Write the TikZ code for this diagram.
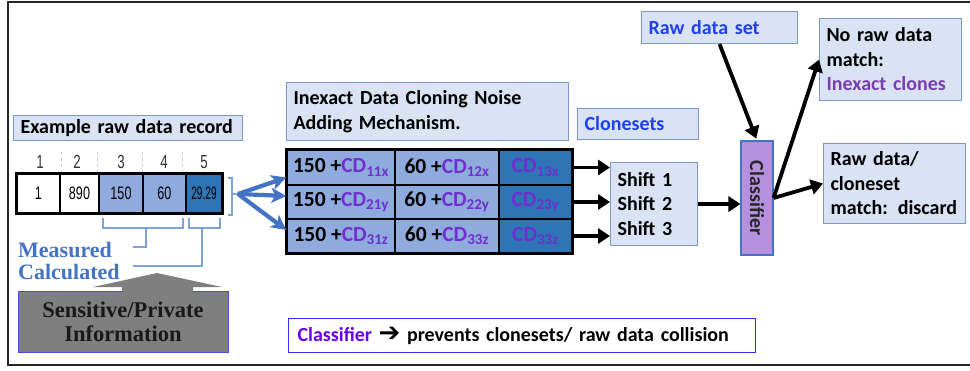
\documentclass[tikz,border=0pt]{standalone}
\usepackage{fontspec}
\setmainfont{Carlito}
\newfontfamily\serifb{Liberation Serif}
\newfontfamily\narrowf[FakeStretch=0.7]{Liberation Sans}
\newfontfamily\symf{DejaVu Sans}
\usetikzlibrary{arrows.meta}

\definecolor{framegray}{HTML}{262626}
\definecolor{boxfill}{HTML}{DAE3F3}
\definecolor{boxline}{HTML}{7B96CA}
\definecolor{cellmid}{HTML}{8FAADC}
\definecolor{celldark}{HTML}{2E75B6}
\definecolor{fanblue}{HTML}{4472C4}
\definecolor{bracketblue}{HTML}{7EA1DA}
\definecolor{linkblue}{HTML}{2040F0}
\definecolor{cdpurple}{HTML}{7030D0}
\definecolor{clonepurple}{HTML}{7A3DB0}
\definecolor{classviolet}{HTML}{6A00F0}
\definecolor{clsfill}{HTML}{B590DE}
\definecolor{grayarrow}{HTML}{7F7F7F}
\definecolor{grayborder}{HTML}{4B4BE0}
\definecolor{noteline}{HTML}{3030F0}
\definecolor{sepgray}{HTML}{C8C8C8}

\newcommand{\cdsub}[1]{\textcolor{cdpurple}{CD\textsubscript{#1}}}

\begin{document}
\begin{tikzpicture}[x=1pt,y=-1pt,
  lbox/.style={draw=boxline, fill=boxfill, line width=1.1pt, inner ysep=0pt,
    inner xsep=7pt, align=left, anchor=north west,
    font=\fontsize{20}{24.5}\selectfont\bfseries},
  blk/.style={line width=3.8pt, -{Triangle[length=12pt,width=15pt]}},
  fan/.style={draw=fanblue, line width=4.2pt, -{Stealth[length=15pt,width=15pt,inset=4pt]}},
  rec/.style={draw=black, line width=1.2pt, inner sep=0pt, minimum height=39,
    font=\narrowf\fontsize{18}{18}\selectfont},
  colnum/.style={inner sep=0pt, font=\narrowf\fontsize{19}{19}\selectfont, text=black!80},
  tcell/.style={draw=black, line width=1.3pt, inner sep=0pt, fill=cellmid,
    font=\fontsize{21.5}{22}\selectfont\bfseries},
  brk/.style={draw=bracketblue, line width=1.8pt},
  mclabel/.style={inner sep=0pt, anchor=base west, text=fanblue,
    font=\serifb\bfseries\fontsize{22}{22}\selectfont},
]
\useasboundingbox (0,0) rectangle (970,370);

% outer frame
\draw[framegray, line width=2.2pt] (8,366) -- (8,2) -- (970,2);
\draw[framegray, line width=2.6pt] (7,365) -- (970,365);

% example record
\node[lbox, text width=215, minimum height=25] (exbox) at (13,115) {Example raw data record};

\foreach \x in {61,97,142,182}
  \draw[sepgray, line width=0.8pt, dashed] (\x,152) -- (\x,172);
\node[colnum] (n1) at (40,162) {1};
\node[colnum] (n2) at (77,162) {2};
\node[colnum] (n3) at (121,162) {3};
\node[colnum] (n4) at (164,162) {4};
\node[colnum] (n5) at (204,162) {5};

\node[rec, fill=white, minimum width=43] (r1) at (38.5,193.5) {1};
\node[rec, fill=white, minimum width=39] (r2) at (79.5,193.5) {890};
\node[rec, fill=cellmid, minimum width=44] (r3) at (121,193.5) {150};
\node[rec, fill=cellmid, minimum width=43] (r4) at (164.5,193.5) {60};
\node[rec, fill=celldark, minimum width=36] (r5) at (204,193.5) {\scalebox{0.8}[1]{29.29}};
\draw[black, line width=2.6pt] (r1.north west) rectangle (r5.south east);

% bracket grouping the record
\draw[brk] (228,178) -- (232,178) -- (232,215) -- (228,215);
\draw[brk] (232,194) -- (238,194);
\coordinate (fanroot) at (238,194);

% brackets below the record
\draw[brk] (103,218) -- (103,228) -- (183,228) -- (183,218);
\draw[brk] (146,228) -- (146,247) -- (133,247);
\draw[brk] (189,218) -- (189,228) -- (220,228) -- (220,218);
\draw[brk] (202,228) -- (202,266) -- (133,266);
\node[mclabel] (meas) at (18,257) {Measured};
\node[mclabel] (calc) at (18,279.5) {Calculated};

% sensitive information callout
\node[draw=grayborder, line width=1pt, fill=grayarrow, minimum width=210, minimum height=61,
  inner sep=0pt, align=center, font=\serifb\bfseries\fontsize{22.5}{24}\selectfont,
  text=black!90] (sens) at (123,321.5) {Sensitive/Private\\Information};
\fill[grayarrow] (122,292) -- (122,287) -- (93,287) -- (157,273) -- (222,287)
  -- (193,287) -- (193,292) -- cycle;

% noise adding mechanism
\node[lbox, text width=268, minimum height=58] (mech) at (286,82)
  {Inexact Data Cloning Noise\\Adding Mechanism.};

\node[tcell, minimum width=108, minimum height=35] (c11) at (341,167.5) {150 +\cdsub{11x}};
\node[tcell, minimum width=104, minimum height=35] (c12) at (447,167.5) {60 +\cdsub{12x}};
\node[tcell, fill=celldark, minimum width=73, minimum height=35] (c13) at (535.5,167.5) {\cdsub{13x}};
\node[tcell, minimum width=108, minimum height=34] (c21) at (341,202) {150 +\cdsub{21y}};
\node[tcell, minimum width=104, minimum height=34] (c22) at (447,202) {60 +\cdsub{22y}};
\node[tcell, fill=celldark, minimum width=73, minimum height=34] (c23) at (535.5,202) {\cdsub{23y}};
\node[tcell, minimum width=108, minimum height=34] (c31) at (341,236) {150 +\cdsub{31z}};
\node[tcell, minimum width=104, minimum height=34] (c32) at (447,236) {60 +\cdsub{33z}};
\node[tcell, fill=celldark, minimum width=73, minimum height=34] (c33) at (535.5,236) {\cdsub{33z}};
\draw[black, line width=2.2pt] (c11.north west) rectangle (c33.south east);

\draw[fan] (fanroot) -- ([yshift=-10pt]c11.west);
\draw[fan] (fanroot) -- ([yshift=6pt]c21.west);
\draw[fan] (fanroot) -- ([yshift=6pt]c31.west);

% clonesets and shifts
\node[lbox, text width=107, minimum height=31, text=linkblue] (clone) at (577,108) {Clonesets};
\node[lbox, text width=73, minimum height=83] (shift) at (610,162) {Shift 1\\Shift 2\\Shift 3};

\draw[blk] (c13.east) -- (c13.east -| shift.west);
\draw[blk] (c23.east) -- (c23.east -| shift.west);
\draw[blk] (c33.east) -- (c33.east -| shift.west);

% classifier and outcomes
\node[lbox, text width=142, minimum height=32, text=linkblue] (rawset) at (641,11) {Raw data set};
\node[draw=fanblue, fill=clsfill, line width=1.1pt, rotate=-90, minimum width=114,
  minimum height=32, inner sep=0pt, font=\fontsize{20}{20}\selectfont\bfseries,
  text=black!85] (cls) at (757,198) {Classifier};
\node[lbox, text width=128, minimum height=82] (noraw) at (819,18)
  {No raw data\\match:\\\textcolor{clonepurple}{Inexact clones}};
\node[lbox, text width=128, minimum height=80] (discard) at (823,143)
  {Raw data/\\cloneset\\match: discard};

% the node is turned a quarter clockwise: west is its top, north its right side
\draw[blk] (shift.east) -- (shift.east -| cls.south);
\draw[blk, shorten >=2pt] (rawset.south) -- (cls.west);
\draw[blk] (cls.north) -- (noraw.west);
\draw[blk] (cls.north) -- (discard.west);

% note
\node[draw=noteline, fill=white, line width=1pt, minimum width=467, minimum height=34,
  inner xsep=9pt, inner ysep=0pt, text width=449, align=left, anchor=north west,
  font=\fontsize{20}{20}\selectfont\bfseries] (note) at (288,318)
  {\textcolor{classviolet}{Classifier} {\symf\bfseries\fontsize{26}{20}\selectfont ➔} prevents clonesets/ raw data collision};
\end{tikzpicture}
\end{document}
